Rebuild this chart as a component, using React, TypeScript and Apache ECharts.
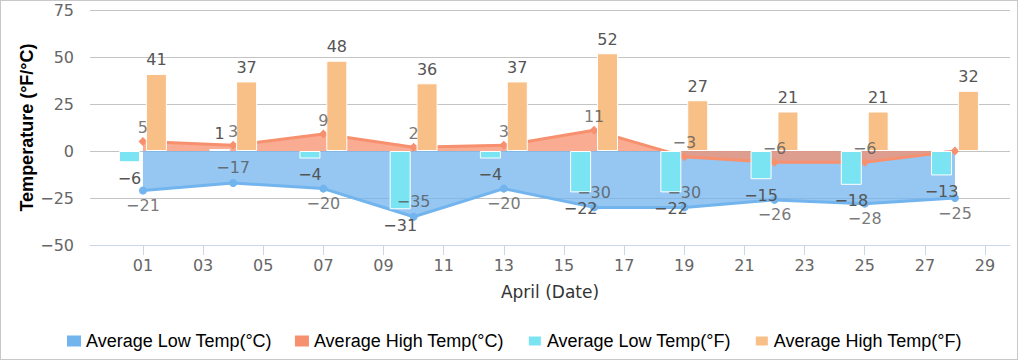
import React, { useEffect, useRef } from "react";
import * as echarts from "echarts";

// ---- data ----
const days = [1, 4, 7, 10, 13, 16, 19, 22, 25, 28];
const lowC = [-21, -17, -20, -35, -20, -30, -30, -26, -28, -25];
const highC = [5, 3, 9, 2, 3, 11, -3, -6, -6, 0];
const lowF = [-6, 1, -4, -31, -4, -22, -22, -15, -18, -13];
const highF = [41, 37, 48, 36, 37, 52, 27, 21, 21, 32];
const xTickDays = [1, 3, 5, 7, 9, 11, 13, 15, 17, 19, 21, 23, 25, 27, 29];
const seriesNames = [
  "Average Low Temp(°C)",
  "Average High Temp(°C)",
  "Average Low Temp(°F)",
  "Average High Temp(°F)",
];
const yAxisTitle = "Temperature (°F/°C)";
const xAxisTitle = "April (Date)";

// label placement (style, not data)
const lowCLabelAbove = [false, true, false, true, false, true, true, false, false, false];
const highCLabelShown = [true, true, true, true, true, true, true, true, true, false];

const COLORS = ["#72b4ee", "#f7906e", "#7ae4f2", "#f8bf87"];
const TICK_FONT = "'DejaVu Sans', sans-serif";

const fmt = (v: number) => (v < 0 ? "\u2212" + Math.abs(v) : String(v));

export default function App() {
  const ref = useRef<HTMLDivElement>(null);

  useEffect(() => {
    if (!ref.current) return;
    const chart = echarts.init(ref.current, undefined, { renderer: "svg" });

    const dataLabel = {
      fontFamily: TICK_FONT,
      fontSize: 16,
      color: "#555555",
    };

    const option: any = {
      animation: false,
      backgroundColor: "#ffffff",
      grid: { left: 90, right: 10, top: 10, bottom: 117 },
      legend: {
        data: seriesNames,
        left: 67,
        top: 332,
        padding: 0,
        icon: "rect",
        itemWidth: 14,
        itemHeight: 11,
        itemGap: 23,
        textStyle: {
          fontFamily: "'Liberation Sans', Arial, sans-serif",
          fontSize: 18,
          color: "#000000",
        },
      },
      xAxis: {
        type: "value",
        min: -0.76,
        max: 29.83,
        name: xAxisTitle,
        nameLocation: "middle",
        nameGap: 38,
        nameTextStyle: { fontFamily: TICK_FONT, fontSize: 17, color: "#333333" },
        splitLine: { show: false },
        axisLine: { show: true, onZero: false, lineStyle: { color: "#ccd6eb", width: 1 } },
        axisTick: {
          show: true,
          length: 10,
          customValues: xTickDays,
          lineStyle: { color: "#ccd6eb" },
        },
        axisLabel: {
          customValues: xTickDays,
          margin: 12,
          fontFamily: TICK_FONT,
          fontSize: 16,
          color: "#666666",
          formatter: (v: number) => String(Math.round(v)).padStart(2, "0"),
        },
      },
      yAxis: {
        type: "value",
        min: -50,
        max: 75,
        interval: 25,
        name: yAxisTitle,
        nameLocation: "middle",
        nameGap: 54,
        nameMoveOverlap: false,
        nameTextStyle: {
          fontFamily: "'Liberation Sans', Arial, sans-serif",
          fontSize: 18,
          fontWeight: "bold",
          color: "#000000",
        },
        axisLine: { show: false },
        axisTick: { show: false },
        splitLine: { show: true, lineStyle: { color: "#c4c4c4", width: 1 } },
        axisLabel: {
          margin: 16,
          fontFamily: TICK_FONT,
          fontSize: 16,
          color: "#666666",
          formatter: (v: number) => fmt(v),
        },
      },
      series: [
        {
          name: seriesNames[0],
          type: "line",
          z: 2,
          data: days.map((d, i) => [d, lowC[i]]),
          color: COLORS[0],
          symbol: "circle",
          symbolSize: 8,
          lineStyle: { width: 3, color: COLORS[0] },
          itemStyle: { color: COLORS[0] },
          areaStyle: { color: COLORS[0], opacity: 0.75 },
          label: { show: false },
          emphasis: { disabled: true },
        },
        {
          name: seriesNames[1],
          type: "line",
          z: 2,
          data: days.map((d, i) => [d, highC[i]]),
          color: COLORS[1],
          symbol: "diamond",
          symbolSize: 9,
          lineStyle: { width: 3, color: COLORS[1] },
          itemStyle: { color: COLORS[1] },
          areaStyle: { color: COLORS[1], opacity: 0.75 },
          label: { show: false },
          emphasis: { disabled: true },
        },
        {
          name: seriesNames[2],
          type: "bar",
          z: 4,
          data: days.map((d, i) => ({
            value: [d, lowF[i]],
            label: { position: lowF[i] < 0 ? "bottom" : "top" },
          })),
          color: COLORS[2],
          barWidth: 21,
          barGap: "28%",
          itemStyle: { color: COLORS[2], borderColor: "#ffffff", borderWidth: 1 },
          label: {
            show: true,
            distance: 8,
            ...dataLabel,
            formatter: (p: any) => fmt(p.value[1]),
          },
          emphasis: { disabled: true },
        },
        {
          name: seriesNames[3],
          type: "bar",
          z: 4,
          data: days.map((d, i) => [d, highF[i]]),
          color: COLORS[3],
          barWidth: 21,
          barGap: "28%",
          itemStyle: { color: COLORS[3], borderColor: "#ffffff", borderWidth: 1 },
          label: {
            show: true,
            position: "top",
            distance: 6,
            ...dataLabel,
            formatter: (p: any) => fmt(p.value[1]),
          },
          emphasis: { disabled: true },
        },
        {
          name: "lowC-labels",
          type: "scatter",
          z: 10,
          silent: true,
          symbolSize: 0,
          data: days.map((d, i) => ({
            value: [d, lowC[i]],
            label: { position: lowCLabelAbove[i] ? "top" : "bottom" },
          })),
          label: {
            show: true,
            distance: 7,
            ...dataLabel,
            formatter: (p: any) => fmt(p.value[1]),
          },
          emphasis: { disabled: true },
        },
        {
          name: "highC-labels",
          type: "scatter",
          z: 10,
          silent: true,
          symbolSize: 0,
          data: days.map((d, i) => ({
            value: [d, highC[i]],
            label: { show: highCLabelShown[i], position: "top" },
          })),
          label: {
            show: true,
            distance: 6,
            ...dataLabel,
            formatter: (p: any) => fmt(p.value[1]),
          },
          emphasis: { disabled: true },
        },
      ],
    };

    chart.setOption(option);
    return () => chart.dispose();
  }, []);

  return (
    <div style={{ position: "absolute", left: 0, top: 0, width: 1020, height: 362, background: "#fff" }}>
      <div ref={ref} style={{ position: "absolute", left: 0, top: 0, width: 1020, height: 362 }} />
      <div
        style={{
          position: "absolute",
          left: 0,
          top: 0,
          width: 1018,
          height: 360,
          border: "1px solid #c8c8c8",
          boxSizing: "border-box",
          pointerEvents: "none",
        }}
      />
    </div>
  );
}
